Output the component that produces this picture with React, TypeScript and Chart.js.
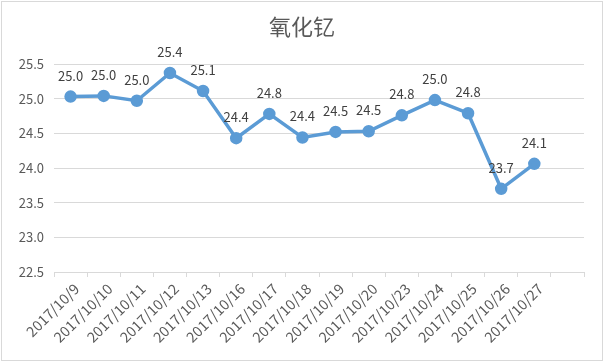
import React, { useEffect, useRef } from "react";
import { Chart, registerables } from "chart.js";

Chart.register(...registerables);

const TITLE = "氧化钇";
const categories = [
  "2017/10/9", "2017/10/10", "2017/10/11", "2017/10/12", "2017/10/13",
  "2017/10/16", "2017/10/17", "2017/10/18", "2017/10/19", "2017/10/20",
  "2017/10/23", "2017/10/24", "2017/10/25", "2017/10/26", "2017/10/27", "",
];
const values: (number | null)[] = [
  25.03, 25.04, 24.97, 25.37, 25.11,
  24.43, 24.78, 24.44, 24.52, 24.53,
  24.76, 24.98, 24.79, 23.70, 24.06, null,
];
const yMin = 22.5;
const yMax = 25.5;
const yStep = 0.5;

const FONT = '"Noto Sans CJK SC", "Noto Sans", sans-serif';
const LINE_COLOR = "#5B9BD5";
const TEXT_COLOR = "#595959";
const GRID_COLOR = "#d9d9d9";

const decorPlugin = {
  id: "decor",
  afterDraw(chart: any) {
    const ctx = chart.ctx;
    ctx.save();
    ctx.fillStyle = TEXT_COLOR;
    ctx.font = `22px ${FONT}`;
    ctx.textAlign = "center";
    ctx.textBaseline = "middle";
    ctx.fillText(TITLE, chart.width / 2, 27);
    ctx.strokeStyle = GRID_COLOR;
    ctx.lineWidth = 1;
    ctx.strokeRect(1.5, 1.5, chart.width - 3, chart.height - 3);
    ctx.restore();
  },
  afterDatasetsDraw(chart: any) {
    const ctx = chart.ctx;
    const meta = chart.getDatasetMeta(0);
    const data = chart.data.datasets[0].data;
    ctx.save();
    ctx.fillStyle = "#404040";
    ctx.font = `13px ${FONT}`;
    ctx.textAlign = "center";
    ctx.textBaseline = "middle";
    meta.data.forEach((pt: any, i: number) => {
      const v = data[i];
      if (v == null) return;
      ctx.fillText(Number(v).toFixed(1), pt.x, pt.y - 21);
    });
    ctx.restore();
  },
};

export default function App() {
  const ref = useRef<HTMLCanvasElement | null>(null);
  useEffect(() => {
    document.body.style.margin = "0";
    const chart = new Chart(ref.current!, {
      type: "line",
      data: {
        labels: categories,
        datasets: [
          {
            data: values,
            borderColor: LINE_COLOR,
            backgroundColor: LINE_COLOR,
            borderWidth: 3.5,
            pointRadius: 4.5,
            pointBackgroundColor: LINE_COLOR,
            pointBorderColor: LINE_COLOR,
            tension: 0,
          },
        ],
      },
      options: {
        animation: false,
        responsive: false,
        layout: { padding: { top: 64, right: 20, left: 0, bottom: 0 } },
        plugins: {
          legend: { display: false },
          title: { display: false },
          tooltip: { enabled: false },
        },
        scales: {
          x: {
            type: "category",
            offset: true,
            grid: {
              offset: true,
              drawOnChartArea: false,
              drawTicks: true,
              tickLength: 5,
              color: GRID_COLOR,
            },
            border: { color: GRID_COLOR },
            ticks: {
              autoSkip: false,
              minRotation: 45,
              maxRotation: 45,
              color: TEXT_COLOR,
              font: { size: 14.5, family: FONT },
              padding: 3,
              labelOffset: 6,
            },
            afterFit: (s: any) => {
              s.height = 90;
            },
          },
          y: {
            min: yMin,
            max: yMax,
            grid: { color: GRID_COLOR, drawTicks: false },
            border: { display: false },
            ticks: {
              stepSize: yStep,
              color: TEXT_COLOR,
              font: { size: 13, family: FONT },
              padding: 10,
              callback: (v: any) => Number(v).toFixed(1),
            },
            afterFit: (s: any) => {
              s.width = 54;
            },
          },
        },
      },
      plugins: [decorPlugin],
    });
    return () => chart.destroy();
  }, []);
  return (
    <div style={{ position: "absolute", left: 0, top: 0, width: 604, height: 362, background: "#fff" }}>
      <canvas ref={ref} width={604} height={362} />
    </div>
  );
}
